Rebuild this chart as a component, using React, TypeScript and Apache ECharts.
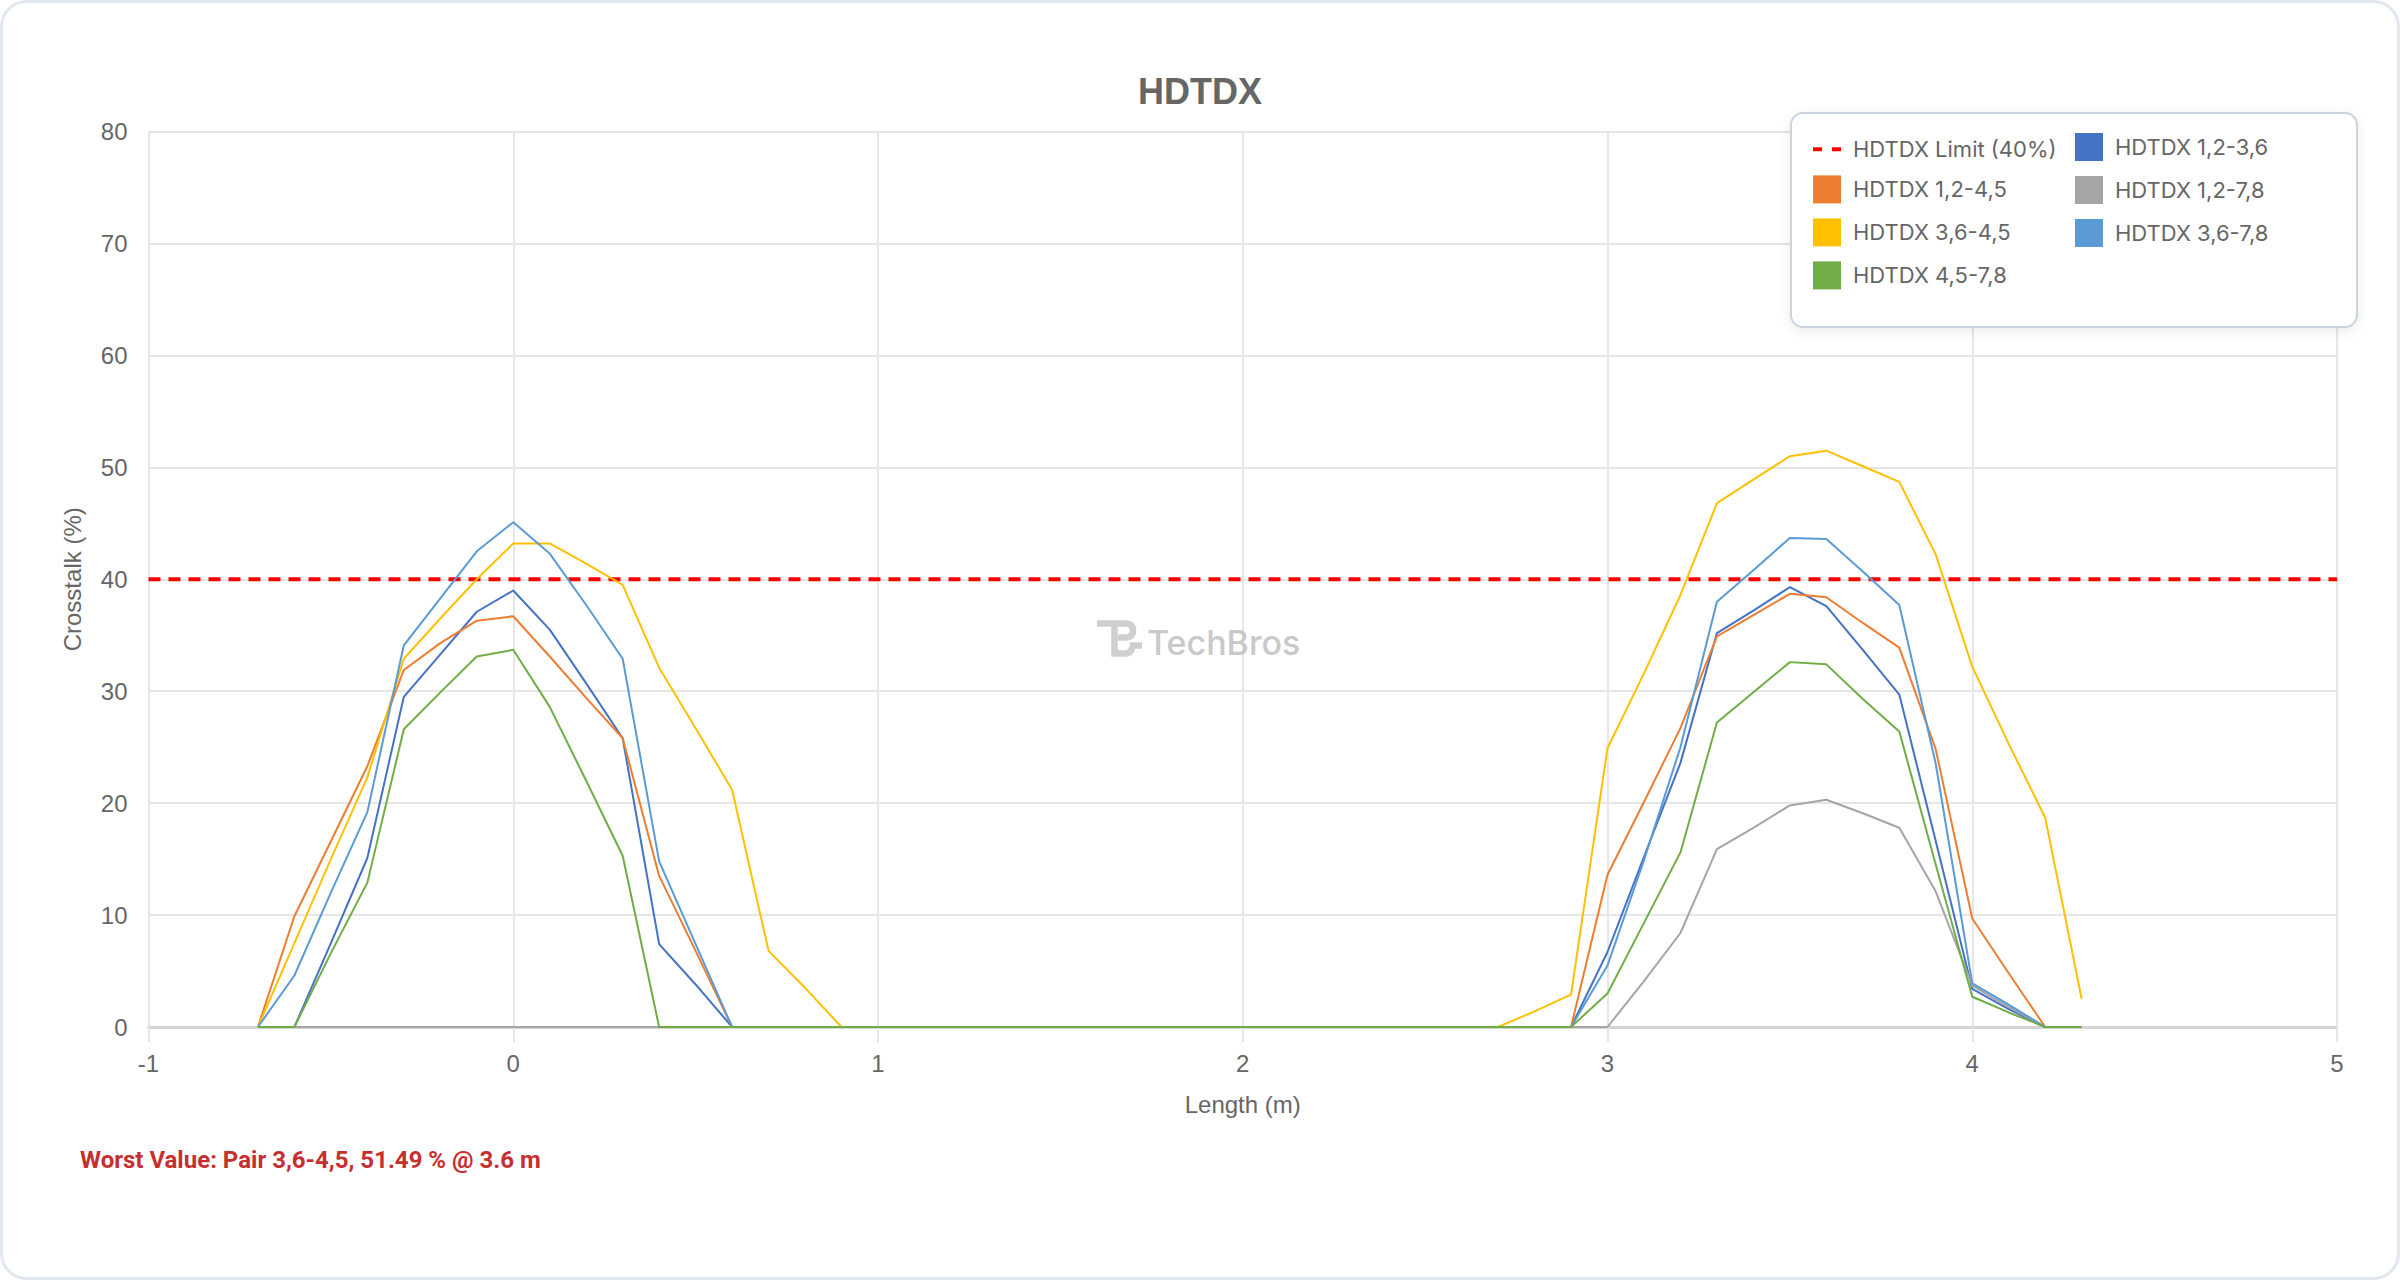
import React, { useEffect, useRef } from 'react';
import * as echarts from 'echarts';

const lengthM = [
  -0.7, -0.6, -0.5, -0.4, -0.3, -0.2, -0.1, 0, 0.1, 0.2,
  0.3, 0.4, 0.5, 0.6, 0.7, 0.8, 0.9, 1.0, 1.1, 1.2,
  1.3, 1.4, 1.5, 1.6, 1.7, 1.8, 1.9, 2.0, 2.1, 2.2,
  2.3, 2.4, 2.5, 2.6, 2.7, 2.8, 2.9, 3.0, 3.1, 3.2,
  3.3, 3.4, 3.5, 3.6, 3.7, 3.8, 3.9, 4.0, 4.1, 4.2,
  4.3,
];

const pair12_36 = [
  0, 0, 7.5, 15.1, 29.5, 33.3, 37.1, 39.0, 35.5, 30.7,
  25.8, 7.4, 3.8, 0, 0, 0, 0, 0, 0, 0,
  0, 0, 0, 0, 0, 0, 0, 0, 0, 0,
  0, 0, 0, 0, 0, 0, 0, 6.7, 15.2, 23.6,
  35.2, 37.2, 39.3, 37.6, 33.7, 29.7, 16.6, 3.4, 1.6, 0,
  0,
];

const pair12_45 = [
  0, 9.9, 16.6, 23.3, 31.9, 34.3, 36.3, 36.7, 33.1, 29.4,
  25.8, 13.5, 6.8, 0, 0, 0, 0, 0, 0, 0,
  0, 0, 0, 0, 0, 0, 0, 0, 0, 0,
  0, 0, 0, 0, 0, 0, 0, 13.6, 20.1, 26.7,
  34.9, 36.8, 38.7, 38.4, 36.1, 33.9, 24.8, 9.7, 4.8, 0,
  0,
];

const pair12_78 = [
  0, 0, 0, 0, 0, 0, 0, 0, 0, 0,
  0, 0, 0, 0, 0, 0, 0, 0, 0, 0,
  0, 0, 0, 0, 0, 0, 0, 0, 0, 0,
  0, 0, 0, 0, 0, 0, 0, 0, 4.1, 8.4,
  15.9, 17.8, 19.8, 20.3, 19.1, 17.8, 12.1, 3.7, 1.8, 0,
  0,
];

const pair36_45 = [
  0, 7.5, 15.0, 22.3, 32.9, 36.5, 40.0, 43.2, 43.2, 41.4,
  39.5, 32.1, 26.7, 21.2, 6.8, 3.5, 0, 0, 0, 0,
  0, 0, 0, 0, 0, 0, 0, 0, 0, 0,
  0, 0, 0, 0, 0, 1.4, 2.9, 24.9, 31.6, 38.6,
  46.8, 48.9, 51.0, 51.49, 50.1, 48.7, 42.2, 32.2, 25.3, 18.7,
  2.5,
];

const pair36_78 = [
  0, 4.6, 12.0, 19.2, 34.1, 38.3, 42.5, 45.1, 42.3, 37.7,
  32.9, 14.8, 7.4, 0, 0, 0, 0, 0, 0, 0,
  0, 0, 0, 0, 0, 0, 0, 0, 0, 0,
  0, 0, 0, 0, 0, 0, 0, 5.5, 14.9, 25.0,
  38.0, 40.8, 43.7, 43.6, 40.7, 37.7, 23.5, 3.9, 2.0, 0,
  0,
];

const pair45_78 = [
  0, 0, 6.6, 12.9, 26.6, 29.9, 33.1, 33.7, 28.6, 22.0,
  15.3, 0, 0, 0, 0, 0, 0, 0, 0, 0,
  0, 0, 0, 0, 0, 0, 0, 0, 0, 0,
  0, 0, 0, 0, 0, 0, 0, 3.0, 9.3, 15.6,
  27.2, 29.9, 32.6, 32.4, 29.3, 26.4, 14.5, 2.7, 1.3, 0,
  0,
];

const limitValue = 40;
const limitSpan = [-1, 5];

const pairSeries = [
  { name: 'HDTDX 1,2-3,6', color: '#4472C4', values: pair12_36 },
  { name: 'HDTDX 1,2-4,5', color: '#ED7D31', values: pair12_45 },
  { name: 'HDTDX 1,2-7,8', color: '#A5A5A5', values: pair12_78 },
  { name: 'HDTDX 3,6-4,5', color: '#FFC000', values: pair36_45 },
  { name: 'HDTDX 3,6-7,8', color: '#5B9BD5', values: pair36_78 },
  { name: 'HDTDX 4,5-7,8', color: '#70AD47', values: pair45_78 },
];

const LIMIT_NAME = 'HDTDX Limit (40%)';
const legendLeftCol = [LIMIT_NAME, 'HDTDX 1,2-4,5', 'HDTDX 3,6-4,5', 'HDTDX 4,5-7,8'];
const legendRightCol = ['HDTDX 1,2-3,6', 'HDTDX 1,2-7,8', 'HDTDX 3,6-7,8'];

const worstText = 'Worst Value: Pair 3,6-4,5, 51.49 % @ 3.6 m';

// TB watermark mark
echarts.graphic.registerShape(
  'tbLogo',
  echarts.graphic.extendPath(
    'M0 3.5 H28 Q36 3.5 36 10.5 Q36 17.5 28 17.5 H21 M17.5 3.5 V33.5 H28 Q34 33.5 35.5 27 M33 25.5 H45',
    {}
  )
);

const tickFont = '"Liberation Sans", Arial, Helvetica, sans-serif';

const App: React.FC = () => {
  const chartRef = useRef<HTMLDivElement | null>(null);

  useEffect(() => {
    document.body.style.margin = '0';
    if (!chartRef.current) return;
    const chart = echarts.init(chartRef.current, undefined, { renderer: 'svg' });

    const legendText = { color: '#666', fontSize: 22, fontFamily: 'Inter, sans-serif', padding: [0, 0, 0, 7] };

    const option = {
      animation: false,
      backgroundColor: '#fff',
      title: {
        text: 'HDTDX',
        left: 'center',
        top: 68,
        textStyle: { color: '#666', fontSize: 36, fontWeight: 'bold', fontFamily: tickFont },
      },
      grid: { left: 148.5, right: 63, top: 131.6, bottom: 253, containLabel: false },
      legend: [
        {
          orient: 'vertical',
          left: 1811,
          top: 138,
          itemWidth: 28,
          itemHeight: 28,
          itemGap: 15,
          padding: 0,
          selectedMode: false,
          textStyle: legendText,
          data: legendLeftCol.map((n) =>
            n === LIMIT_NAME
              ? { name: n, itemStyle: { opacity: 0 }, lineStyle: { type: [9, 10], width: 4 } }
              : { name: n, icon: 'rect' }
          ),
        },
        {
          orient: 'vertical',
          left: 2075,
          top: 133,
          itemWidth: 28,
          itemHeight: 28,
          itemGap: 15,
          padding: 0,
          selectedMode: false,
          textStyle: legendText,
          data: legendRightCol.map((n) => ({ name: n, icon: 'rect' })),
        },
      ],
      xAxis: {
        type: 'value',
        min: -1,
        max: 5,
        interval: 1,
        name: 'Length (m)',
        nameLocation: 'middle',
        nameGap: 65,
        nameTextStyle: { color: '#666', fontSize: 24, fontFamily: tickFont },
        axisLine: { show: true, onZero: false, lineStyle: { color: '#d4d4d4', width: 3 } },
        axisTick: { show: true, length: 15, lineStyle: { color: '#e6e6e6', width: 2 } },
        axisLabel: { color: '#666', fontSize: 24, fontFamily: tickFont, margin: 24 },
        splitLine: { show: true, lineStyle: { color: '#e6e6e6', width: 2 } },
      },
      yAxis: {
        type: 'value',
        min: 0,
        max: 80,
        interval: 10,
        name: 'Crosstalk (%)',
        nameLocation: 'middle',
        nameGap: 64,
        nameTextStyle: { color: '#666', fontSize: 24, fontFamily: tickFont },
        axisLine: { show: true, lineStyle: { color: '#e6e6e6', width: 2 } },
        axisTick: { show: true, length: 15, lineStyle: { color: '#e6e6e6', width: 2 } },
        axisLabel: { color: '#666', fontSize: 24, fontFamily: tickFont, margin: 21 },
        splitLine: { show: true, lineStyle: { color: '#e6e6e6', width: 2 } },
      },
      graphic: [
        {
          type: 'rect',
          z: -1,
          silent: true,
          shape: { x: 1.5, y: 1.5, width: 2397, height: 1277, r: 25 },
          style: { fill: 'none', stroke: '#e2e8f0', lineWidth: 3 },
        },
        {
          type: 'rect',
          z: 3,
          silent: true,
          shape: { x: 1791, y: 113, width: 566, height: 214, r: 12 },
          style: {
            fill: '#fff',
            stroke: '#cbd3de',
            lineWidth: 2,
            shadowBlur: 12,
            shadowColor: 'rgba(0,0,0,0.08)',
            shadowOffsetY: 3,
          },
        },
        {
          type: 'tbLogo',
          x: 1097,
          y: 620,
          z: 1,
          silent: true,
          style: { fill: 'none', stroke: '#cfcfcf', lineWidth: 6.5 },
        },
        {
          type: 'text',
          x: 1147,
          y: 642,
          z: 1,
          silent: true,
          style: {
            text: 'TechBros',
            fill: '#c9c9c9',
            fontSize: 34,
            fontWeight: 500,
            fontFamily: 'Inter, sans-serif',
            verticalAlign: 'middle',
          },
        },
        {
          type: 'text',
          x: 80,
          y: 1160,
          silent: true,
          style: {
            text: worstText,
            fill: '#c62f2f',
            fontSize: 24,
            fontWeight: 'bold',
            fontFamily: 'Roboto, sans-serif',
            verticalAlign: 'middle',
          },
        },
      ],
      series: [
        {
          name: LIMIT_NAME,
          type: 'line',
          symbol: 'none',
          silent: true,
          data: limitSpan.map((x) => [x, limitValue]),
          itemStyle: { color: '#ff0000' },
          lineStyle: { color: '#ff0000', width: 4, type: [12, 8] },
          z: 3,
        },
        ...pairSeries.map((s) => ({
          name: s.name,
          type: 'line',
          symbol: 'none',
          silent: true,
          data: lengthM.map((x, i) => [x, s.values[i]]),
          itemStyle: { color: s.color },
          lineStyle: { color: s.color, width: 2 },
        })),
      ],
    };

    chart.setOption(option);
    return () => {
      chart.dispose();
    };
  }, []);

  return <div ref={chartRef} style={{ width: 2400, height: 1280 }} />;
};

export default App;
